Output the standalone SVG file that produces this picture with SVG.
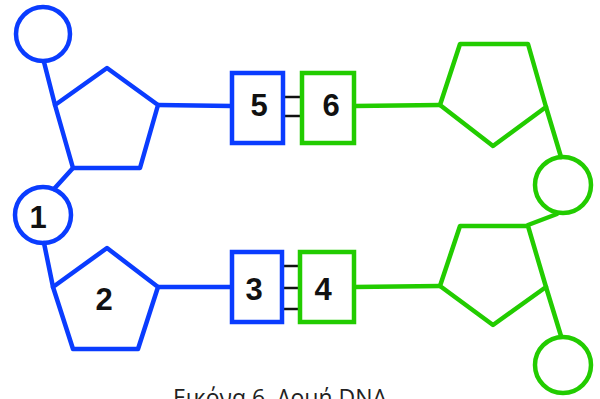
<svg xmlns="http://www.w3.org/2000/svg" width="600" height="399" viewBox="0 0 600 399">
  <style>
    .blue { fill: none; stroke: #0a3cff; stroke-width: 4.5; stroke-linejoin: round; stroke-linecap: round; }
    .green { fill: none; stroke: #22cc00; stroke-width: 4.5; stroke-linejoin: round; stroke-linecap: round; }
    .box-blue { fill: #ffffff; stroke: #0a3cff; stroke-width: 4.5; }
    .box-green { fill: #ffffff; stroke: #22cc00; stroke-width: 4.5; }
    .bond { stroke: #111111; stroke-width: 2.5; }
    .num { font-family: "Liberation Sans", Arial, sans-serif; font-weight: bold; font-size: 31px; fill: #111111; text-anchor: middle; }
    .caption { font-family: "Open Sans", "Noto Sans", sans-serif; font-size: 23px; fill: #222222; }
  </style>
  <rect width="600" height="399" fill="#ffffff"/>

  <!-- backbone and base links -->
  <g id="connectors">
    <!-- left strand (blue) -->
    <line class="blue" x1="44" y1="62" x2="55" y2="105"/>
    <line class="blue" x1="73" y1="168" x2="54" y2="189"/>
    <line class="blue" x1="44" y1="243" x2="53" y2="287"/>
    <line class="blue" x1="158" y1="105" x2="232" y2="106"/>
    <line class="blue" x1="158" y1="287" x2="232" y2="287"/>
    <!-- right strand (green) -->
    <line class="green" x1="546" y1="107" x2="561" y2="157"/>
    <line class="green" x1="557" y1="214" x2="528" y2="225"/>
    <line class="green" x1="546" y1="287" x2="561" y2="336"/>
    <line class="green" x1="354" y1="106" x2="440" y2="105"/>
    <line class="green" x1="354" y1="287" x2="440" y2="286"/>
    <!-- hydrogen bonds -->
    <line class="bond" x1="283" y1="97" x2="302" y2="97"/>
    <line class="bond" x1="283" y1="116" x2="302" y2="116"/>
    <line class="bond" x1="282" y1="266" x2="300" y2="266"/>
    <line class="bond" x1="282" y1="288" x2="300" y2="288"/>
    <line class="bond" x1="282" y1="309" x2="300" y2="309"/>
  </g>

  <!-- left strand: phosphates and sugars -->
  <g id="phosphate-top">
    <circle class="blue" cx="43" cy="34" r="27"/>
  </g>
  <g id="sugar-top-left">
    <polygon class="blue" points="55,105 107,68 158,105 140,168 73,168"/>
  </g>
  <g id="phosphate-1">
    <circle class="blue" cx="43" cy="215" r="28"/>
    <text class="num" x="38" y="228">1</text>
  </g>
  <g id="sugar-2">
    <polygon class="blue" points="53,287 107,248 158,287 138,349 73,349"/>
    <text class="num" x="104" y="310">2</text>
  </g>

  <!-- bases -->
  <g id="base-5">
    <rect class="box-blue" x="232" y="73" width="51" height="70"/>
    <text class="num" x="259" y="116">5</text>
  </g>
  <g id="base-6">
    <rect class="box-green" x="302" y="73" width="52" height="70"/>
    <text class="num" x="331" y="116">6</text>
  </g>
  <g id="base-3">
    <rect class="box-blue" x="232" y="252" width="50" height="70"/>
    <text class="num" x="254" y="300">3</text>
  </g>
  <g id="base-4">
    <rect class="box-green" x="300" y="252" width="54" height="70"/>
    <text class="num" x="323" y="300">4</text>
  </g>

  <!-- right strand: sugars and phosphates -->
  <g id="sugar-top-right">
    <polygon class="green" points="460,44 528,44 546,107 493,146 440,105"/>
  </g>
  <g id="phosphate-right-mid">
    <circle class="green" cx="563" cy="185" r="28"/>
  </g>
  <g id="sugar-bottom-right">
    <polygon class="green" points="460,226 528,226 546,287 493,325 440,286"/>
  </g>
  <g id="phosphate-right-bottom">
    <circle class="green" cx="563" cy="365" r="28"/>
  </g>

  <text class="caption" x="173" y="406">Εικόνα 6. Δομή DNA</text>
</svg>
